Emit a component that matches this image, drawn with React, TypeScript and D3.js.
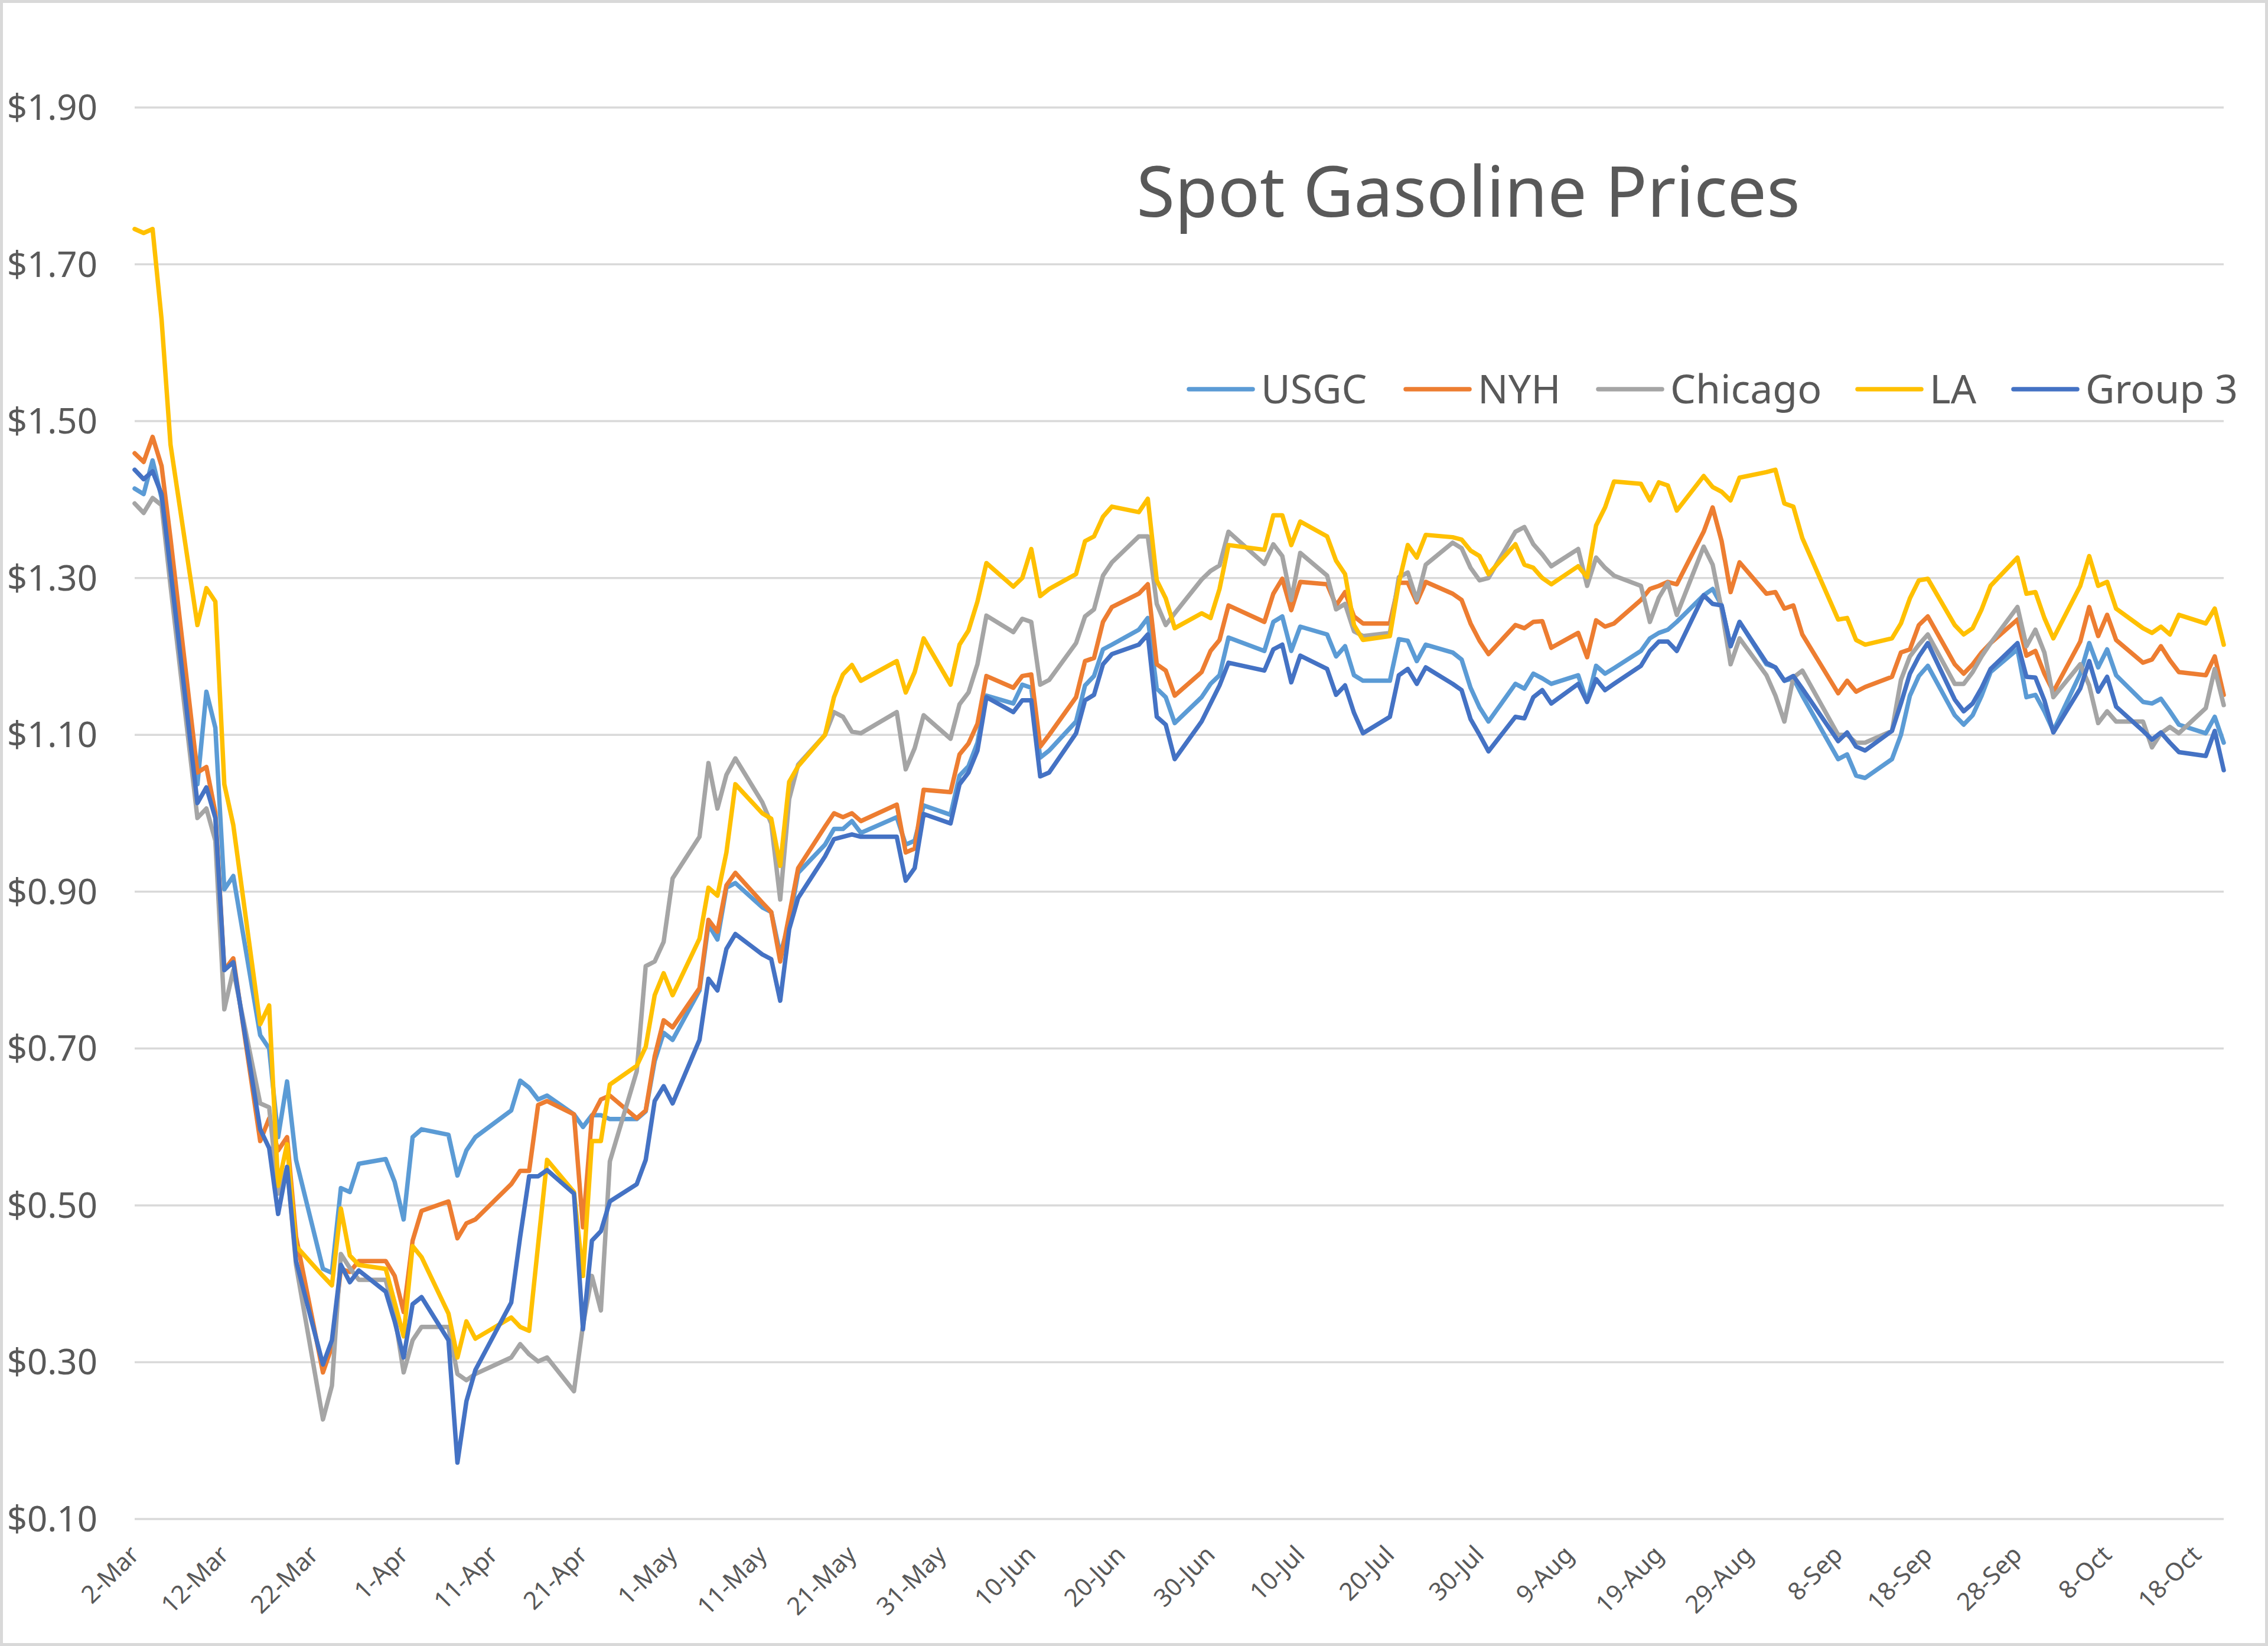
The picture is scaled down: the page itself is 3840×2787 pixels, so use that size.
import React from 'react';
import * as d3 from 'd3';

// trading days (2020), one value per day per series
const dates = [
  '2-Mar', '3-Mar', '4-Mar', '5-Mar', '6-Mar', '9-Mar', '10-Mar', '11-Mar', '12-Mar', '13-Mar',
  '16-Mar', '17-Mar', '18-Mar', '19-Mar', '20-Mar', '23-Mar', '24-Mar', '25-Mar', '26-Mar', '27-Mar',
  '30-Mar', '31-Mar', '1-Apr', '2-Apr', '3-Apr', '6-Apr', '7-Apr', '8-Apr', '9-Apr',
  '13-Apr', '14-Apr', '15-Apr', '16-Apr', '17-Apr', '20-Apr', '21-Apr', '22-Apr', '23-Apr', '24-Apr',
  '27-Apr', '28-Apr', '29-Apr', '30-Apr', '1-May', '4-May', '5-May', '6-May', '7-May', '8-May',
  '11-May', '12-May', '13-May', '14-May', '15-May', '18-May', '19-May', '20-May', '21-May', '22-May',
  '26-May', '27-May', '28-May', '29-May', '1-Jun', '2-Jun', '3-Jun', '4-Jun', '5-Jun',
  '8-Jun', '9-Jun', '10-Jun', '11-Jun', '12-Jun', '15-Jun', '16-Jun', '17-Jun', '18-Jun', '19-Jun',
  '22-Jun', '23-Jun', '24-Jun', '25-Jun', '26-Jun', '29-Jun', '30-Jun', '1-Jul', '2-Jul',
  '6-Jul', '7-Jul', '8-Jul', '9-Jul', '10-Jul', '13-Jul', '14-Jul', '15-Jul', '16-Jul', '17-Jul',
  '20-Jul', '21-Jul', '22-Jul', '23-Jul', '24-Jul', '27-Jul', '28-Jul', '29-Jul', '30-Jul', '31-Jul',
  '3-Aug', '4-Aug', '5-Aug', '6-Aug', '7-Aug', '10-Aug', '11-Aug', '12-Aug', '13-Aug', '14-Aug',
  '17-Aug', '18-Aug', '19-Aug', '20-Aug', '21-Aug', '24-Aug', '25-Aug', '26-Aug', '27-Aug', '28-Aug',
  '31-Aug', '1-Sep', '2-Sep', '3-Sep', '4-Sep', '8-Sep', '9-Sep', '10-Sep', '11-Sep',
  '14-Sep', '15-Sep', '16-Sep', '17-Sep', '18-Sep', '21-Sep', '22-Sep', '23-Sep', '24-Sep', '25-Sep',
  '28-Sep', '29-Sep', '30-Sep', '1-Oct', '2-Oct', '5-Oct', '6-Oct', '7-Oct', '8-Oct', '9-Oct',
  '12-Oct', '13-Oct', '14-Oct', '15-Oct', '16-Oct', '19-Oct', '20-Oct', '21-Oct',
];

const usgc = [
  1.414, 1.407, 1.450, 1.402, 1.310, 1.037, 1.155, 1.109, 0.903, 0.920,
  0.717, 0.700, 0.587, 0.658, 0.558, 0.419, 0.414, 0.522, 0.517, 0.553,
  0.559, 0.530, 0.482, 0.587, 0.597, 0.590, 0.538, 0.570, 0.587,
  0.621, 0.659, 0.650, 0.635, 0.640, 0.616, 0.600, 0.615, 0.615, 0.610,
  0.610, 0.620, 0.684, 0.720, 0.711, 0.774, 0.858, 0.839, 0.905, 0.911,
  0.880, 0.874, 0.820, 0.860, 0.924, 0.960, 0.980, 0.980, 0.990, 0.975,
  0.995, 0.960, 0.965, 1.010, 0.998, 1.048, 1.060, 1.090, 1.150,
  1.140, 1.164, 1.160, 1.071, 1.080, 1.117, 1.163, 1.175, 1.209, 1.215,
  1.234, 1.249, 1.159, 1.148, 1.115, 1.148, 1.165, 1.176, 1.224,
  1.207, 1.244, 1.251, 1.207, 1.238, 1.228, 1.200, 1.213, 1.176, 1.169,
  1.169, 1.222, 1.220, 1.194, 1.215, 1.205, 1.196, 1.160, 1.135, 1.117,
  1.165, 1.159, 1.178, 1.172, 1.165, 1.176, 1.142, 1.188, 1.178, 1.185,
  1.207, 1.223, 1.230, 1.234, 1.244, 1.278, 1.286, 1.265, 1.213, 1.244,
  1.190, 1.186, 1.169, 1.172, 1.150, 1.069, 1.075, 1.048, 1.045,
  1.069, 1.100, 1.150, 1.175, 1.188, 1.125, 1.113, 1.125, 1.150, 1.180,
  1.209, 1.148, 1.151, 1.130, 1.105, 1.178, 1.217, 1.186, 1.209, 1.176,
  1.142, 1.140, 1.146, 1.130, 1.113, 1.102, 1.123, 1.090,
];

const nyh = [
  1.459, 1.448, 1.480, 1.443, 1.350, 1.052, 1.059, 1.001, 0.800, 0.815,
  0.582, 0.611, 0.570, 0.587, 0.460, 0.287, 0.320, 0.419, 0.415, 0.429,
  0.429, 0.410, 0.364, 0.455, 0.493, 0.505, 0.458, 0.477, 0.482,
  0.527, 0.544, 0.544, 0.628, 0.633, 0.616, 0.472, 0.613, 0.635, 0.640,
  0.611, 0.621, 0.690, 0.736, 0.727, 0.777, 0.864, 0.849, 0.908, 0.924,
  0.886, 0.874, 0.811, 0.870, 0.930, 0.983, 1.000, 0.995, 1.000, 0.990,
  1.011, 0.950, 0.955, 1.030, 1.027, 1.075, 1.089, 1.114, 1.175,
  1.160, 1.175, 1.177, 1.085, 1.100, 1.148, 1.194, 1.198, 1.244, 1.263,
  1.280, 1.292, 1.190, 1.182, 1.150, 1.180, 1.207, 1.221, 1.265,
  1.244, 1.280, 1.299, 1.259, 1.295, 1.292, 1.265, 1.282, 1.251, 1.242,
  1.242, 1.294, 1.294, 1.269, 1.295, 1.280, 1.272, 1.242, 1.220, 1.203,
  1.240, 1.236, 1.244, 1.245, 1.211, 1.230, 1.199, 1.246, 1.238, 1.242,
  1.272, 1.286, 1.290, 1.295, 1.292, 1.359, 1.390, 1.347, 1.282, 1.320,
  1.280, 1.282, 1.261, 1.265, 1.228, 1.153, 1.169, 1.155, 1.161,
  1.174, 1.205, 1.209, 1.240, 1.251, 1.190, 1.178, 1.190, 1.205, 1.217,
  1.247, 1.201, 1.207, 1.178, 1.155, 1.219, 1.263, 1.226, 1.253, 1.221,
  1.192, 1.196, 1.213, 1.195, 1.180, 1.176, 1.200, 1.151,
];

const chicago = [
  1.395, 1.383, 1.402, 1.393, 1.290, 0.994, 1.006, 0.965, 0.750, 0.800,
  0.630, 0.625, 0.515, 0.549, 0.424, 0.227, 0.270, 0.438, 0.420, 0.405,
  0.405, 0.360, 0.287, 0.328, 0.345, 0.345, 0.285, 0.277, 0.285,
  0.306, 0.323, 0.310, 0.301, 0.306, 0.263, 0.347, 0.410, 0.366, 0.556,
  0.671, 0.805, 0.811, 0.836, 0.917, 0.970, 1.064, 1.006, 1.049, 1.070,
  1.014, 0.987, 0.890, 1.018, 1.062, 1.100, 1.129, 1.123, 1.104, 1.102,
  1.129, 1.056, 1.083, 1.125, 1.095, 1.139, 1.154, 1.190, 1.252,
  1.231, 1.248, 1.244, 1.164, 1.170, 1.217, 1.251, 1.260, 1.303, 1.320,
  1.353, 1.353, 1.267, 1.240, 1.255, 1.298, 1.309, 1.316, 1.359,
  1.318, 1.343, 1.328, 1.272, 1.332, 1.303, 1.260, 1.267, 1.232, 1.226,
  1.230, 1.301, 1.307, 1.272, 1.317, 1.345, 1.338, 1.313, 1.297, 1.300,
  1.359, 1.365, 1.343, 1.330, 1.315, 1.337, 1.290, 1.326, 1.313, 1.303,
  1.290, 1.244, 1.275, 1.294, 1.253, 1.340, 1.317, 1.260, 1.190, 1.223,
  1.176, 1.150, 1.117, 1.173, 1.182, 1.100, 1.100, 1.090, 1.090,
  1.105, 1.170, 1.200, 1.215, 1.228, 1.165, 1.165, 1.180, 1.200, 1.217,
  1.263, 1.213, 1.234, 1.205, 1.148, 1.190, 1.163, 1.115, 1.130, 1.117,
  1.117, 1.084, 1.102, 1.110, 1.102, 1.134, 1.184, 1.138,
];

const la = [
  1.745, 1.740, 1.745, 1.630, 1.470, 1.240, 1.287, 1.270, 1.037, 0.985,
  0.731, 0.755, 0.525, 0.578, 0.448, 0.410, 0.398, 0.496, 0.436, 0.424,
  0.419, 0.376, 0.333, 0.448, 0.434, 0.362, 0.306, 0.352, 0.330,
  0.357, 0.345, 0.340, 0.450, 0.558, 0.517, 0.410, 0.582, 0.582, 0.654,
  0.678, 0.702, 0.768, 0.796, 0.768, 0.840, 0.905, 0.895, 0.950, 1.037,
  1.000, 0.993, 0.933, 1.040, 1.060, 1.100, 1.148, 1.177, 1.189, 1.169,
  1.194, 1.154, 1.180, 1.223, 1.164, 1.215, 1.233, 1.270, 1.319,
  1.289, 1.300, 1.337, 1.277, 1.286, 1.305, 1.347, 1.353, 1.378, 1.391,
  1.384, 1.401, 1.297, 1.274, 1.236, 1.255, 1.249, 1.286, 1.342,
  1.336, 1.380, 1.380, 1.342, 1.372, 1.353, 1.322, 1.305, 1.240, 1.221,
  1.226, 1.294, 1.342, 1.326, 1.355, 1.352, 1.349, 1.335, 1.328, 1.305,
  1.343, 1.317, 1.313, 1.300, 1.292, 1.315, 1.301, 1.367, 1.390, 1.423,
  1.420, 1.399, 1.422, 1.418, 1.386, 1.430, 1.416, 1.410, 1.399, 1.428,
  1.435, 1.438, 1.395, 1.391, 1.351, 1.247, 1.249, 1.221, 1.215,
  1.223, 1.242, 1.274, 1.297, 1.299, 1.240, 1.228, 1.236, 1.260, 1.290,
  1.326, 1.280, 1.282, 1.249, 1.223, 1.290, 1.328, 1.290, 1.295, 1.261,
  1.236, 1.230, 1.238, 1.228, 1.253, 1.242, 1.261, 1.215,
];

const group3 = [
  1.438, 1.426, 1.436, 1.407, 1.310, 1.013, 1.033, 0.994, 0.800, 0.810,
  0.597, 0.573, 0.489, 0.549, 0.429, 0.297, 0.328, 0.424, 0.402, 0.417,
  0.390, 0.352, 0.306, 0.374, 0.383, 0.328, 0.172, 0.250, 0.290,
  0.376, 0.460, 0.537, 0.537, 0.545, 0.515, 0.342, 0.455, 0.467, 0.505,
  0.527, 0.558, 0.633, 0.652, 0.630, 0.711, 0.789, 0.774, 0.827, 0.846,
  0.820, 0.814, 0.761, 0.852, 0.892, 0.945, 0.967, 0.970, 0.973, 0.970,
  0.970, 0.914, 0.930, 0.999, 0.987, 1.037, 1.052, 1.080, 1.148,
  1.129, 1.144, 1.144, 1.047, 1.052, 1.102, 1.144, 1.151, 1.190, 1.203,
  1.215, 1.228, 1.123, 1.113, 1.069, 1.117, 1.140, 1.163, 1.192,
  1.182, 1.209, 1.215, 1.167, 1.201, 1.184, 1.151, 1.163, 1.128, 1.102,
  1.123, 1.176, 1.184, 1.165, 1.186, 1.165, 1.157, 1.120, 1.100, 1.079,
  1.123, 1.121, 1.148, 1.157, 1.140, 1.165, 1.142, 1.171, 1.157, 1.165,
  1.188, 1.207, 1.219, 1.219, 1.207, 1.278, 1.267, 1.265, 1.213, 1.244,
  1.192, 1.186, 1.169, 1.175, 1.159, 1.092, 1.103, 1.085, 1.080,
  1.105, 1.140, 1.178, 1.200, 1.217, 1.145, 1.130, 1.140, 1.160, 1.184,
  1.217, 1.174, 1.173, 1.144, 1.103, 1.159, 1.194, 1.155, 1.174, 1.136,
  1.105, 1.094, 1.103, 1.090, 1.078, 1.073, 1.105, 1.055,
];

const seriesNames = ['USGC', 'NYH', 'Chicago', 'LA', 'Group 3'];
const seriesColors = ['#5B9BD5', '#ED7D31', '#A5A5A5', '#FFC000', '#4472C4'];
const seriesValues = [usgc, nyh, chicago, la, group3];

const xTickLabels = [
  '2-Mar', '12-Mar', '22-Mar', '1-Apr', '11-Apr', '21-Apr', '1-May', '11-May',
  '21-May', '31-May', '10-Jun', '20-Jun', '30-Jun', '10-Jul', '20-Jul', '30-Jul',
  '9-Aug', '19-Aug', '29-Aug', '8-Sep', '18-Sep', '28-Sep', '8-Oct', '18-Oct',
];
const yTicks = [0.1, 0.3, 0.5, 0.7, 0.9, 1.1, 1.3, 1.5, 1.7, 1.9];

const W = 3840;
const H = 2787;
const FONT = '"Noto Sans", "Open Sans", sans-serif';
const TEXT = '#595959';

const parseDay = d3.utcParse('%d-%b');
const days = dates.map(d => parseDay(d) as Date);

// legend item start positions (line sample left edge)
const legendX = [2013, 2380, 2706, 3145, 3409];

export default function App() {
  const x = d3
    .scaleUtc()
    .domain([days[0], days[days.length - 1]])
    .range([228, 3765]);
  const y = d3.scaleLinear().domain([0.1, 1.9]).range([2572, 182]);

  const line = d3
    .line<number>()
    .x((_, i) => x(days[i]))
    .y(v => y(v));

  const fmt = d3.format('$.2f');

  return (
    <svg
      width={W}
      height={H}
      style={{ position: 'absolute', left: 0, top: 0, display: 'block', background: '#fff' }}
      fontFamily={FONT}
    >
      <rect x={2.5} y={2.5} width={W - 5} height={H - 5} fill="#fff" stroke="#d9d9d9" strokeWidth={5} />

      {/* gridlines */}
      {yTicks.map(t => (
        <line
          key={t}
          x1={x.range()[0]}
          x2={x.range()[1]}
          y1={y(t)}
          y2={y(t)}
          stroke="#d9d9d9"
          strokeWidth={3.5}
        />
      ))}

      {/* y labels */}
      {yTicks.map(t => (
        <text key={t} x={165} y={y(t)} dy="0.35em" textAnchor="end" fontSize={60} fill={TEXT}>
          {fmt(t)}
        </text>
      ))}

      {/* x labels */}
      {xTickLabels.map(l => {
        const tx = x(parseDay(l) as Date) + 10;
        return (
          <text
            key={l}
            transform={`translate(${tx},2635) rotate(-45)`}
            textAnchor="end"
            fontSize={42}
            fill={TEXT}
          >
            {l}
          </text>
        );
      })}

      {/* series */}
      {seriesValues.map((vals, i) => (
        <path
          key={seriesNames[i]}
          d={line(vals) || ''}
          fill="none"
          stroke={seriesColors[i]}
          strokeWidth={7.5}
          strokeLinejoin="round"
          strokeLinecap="round"
        />
      ))}

      {/* title */}
      <text x={2486} y={367} textAnchor="middle" fontSize={118} fill={TEXT}>
        Spot Gasoline Prices
      </text>

      {/* legend */}
      {seriesNames.map((name, i) => (
        <g key={name} transform={`translate(${legendX[i]},659)`}>
          <line x1={0} x2={108} y1={0} y2={0} stroke={seriesColors[i]} strokeWidth={7.5} strokeLinecap="round" />
          <text x={122} y={0} dy="0.35em" fontSize={68} fill={TEXT}>
            {name}
          </text>
        </g>
      ))}
    </svg>
  );
}
